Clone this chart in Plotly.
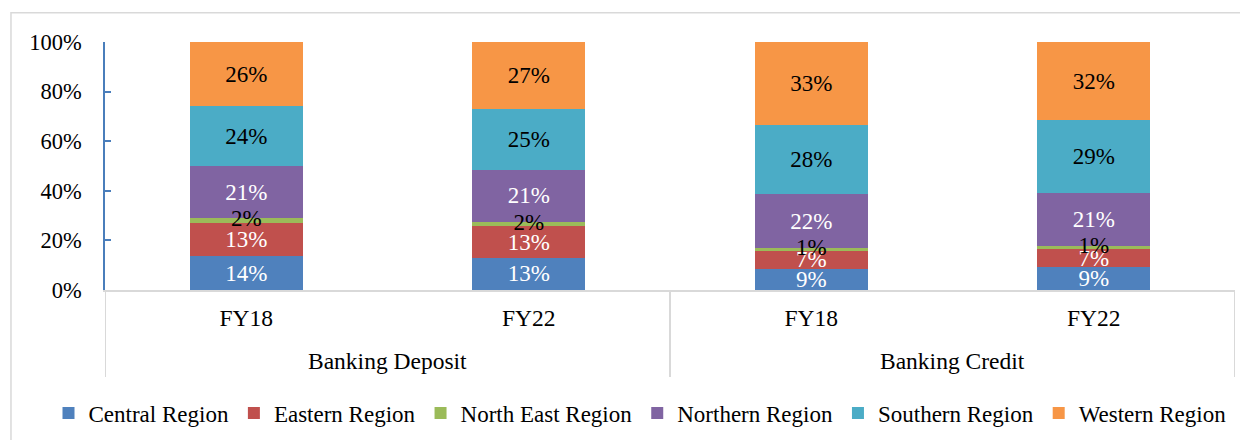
import plotly.graph_objects as go

groups = ["Banking Deposit", "Banking Deposit", "Banking Credit", "Banking Credit"]
years = ["FY18", "FY22", "FY18", "FY22"]

regions = ["Central Region", "Eastern Region", "North East Region",
           "Northern Region", "Southern Region", "Western Region"]
central = [13.6, 13.0, 8.6, 9.2]
eastern = [13.3, 12.7, 7.2, 7.3]
north_east = [2.1, 1.9, 1.0, 1.2]
northern = [21.0, 20.7, 22.0, 21.4]
southern = [24.0, 24.8, 27.8, 29.3]
western = [26.0, 26.9, 33.4, 31.6]

series = [central, eastern, north_east, northern, southern, western]
colors = ["#4F81BD", "#C0504D", "#9BBB59", "#8064A2", "#4BACC6", "#F79646"]
text_colors = ["white", "white", "black", "white", "black", "black"]

FONT = "Liberation Serif, Times New Roman, serif"
cats = [g + " " + y for g, y in zip(groups, years)]

fig = go.Figure()
for i, (name, vals, col, tcol) in enumerate(zip(regions, series, colors, text_colors)):
    thin = name == "North East Region"
    fig.add_trace(go.Bar(
        x=cats, y=vals, name=name,
        marker=dict(color=col, line=dict(width=0)),
        texttemplate="%{y:.0f}%", textposition="none" if thin else "inside",
        textangle=0, insidetextanchor="middle",
        textfont=dict(family=FONT, size=23, color=tcol),
        hoverinfo="skip",
    ))

# labels of the thin North East segments, drawn above all bars
ne_mid = [c + e + n / 2 for c, e, n in zip(central, eastern, north_east)]
fig.add_trace(go.Scatter(
    x=cats, y=ne_mid, mode="text", showlegend=False, hoverinfo="skip",
    text=[f"{v:.0f}%" for v in north_east], cliponaxis=False,
    textfont=dict(family=FONT, size=23, color="black"),
))

fig.update_layout(
    barmode="stack", bargap=0.6,
    width=1240, height=432,
    margin=dict(l=97, r=13, t=34, b=150, autoexpand=False),
    paper_bgcolor="white", plot_bgcolor="white",
    font=dict(family=FONT, size=22, color="black"),
    uniformtext=dict(minsize=23, mode="show"),
    legend=dict(orientation="h", xref="paper", x=-0.05, xanchor="left",
                y=-0.496, yanchor="middle", font=dict(size=23),
                itemwidth=30, traceorder="normal", itemclick=False),
    showlegend=True,
)
fig.update_yaxes(range=[0, 100], dtick=20, ticksuffix="%", showgrid=False,
                 zeroline=False, showline=True, linecolor="#4A7EBB", linewidth=1.5,
                 ticks="inside", ticklen=6, tickcolor="#4A7EBB", tickwidth=1.5,
                 ticklabelstandoff=17, tickfont=dict(size=22.5))
fig.update_xaxes(type="category", tickvals=cats, ticktext=years,
                 showline=True, linecolor="#D9D9D9", linewidth=2,
                 ticks="", ticklabelstandoff=6, tickfont=dict(size=23.5),
                 range=[-0.5, len(cats) - 0.5])

# group labels and group dividers under the category axis
group_names = list(dict.fromkeys(groups))
for gname in group_names:
    idx = [i for i, g in enumerate(groups) if g == gname]
    fig.add_annotation(x=sum(idx) / len(idx), y=-0.288, xref="x", yref="paper",
                       text=gname, showarrow=False, yanchor="middle",
                       font=dict(size=23.5))
    for b in (min(idx) - 0.5, max(idx) + 0.5):
        fig.add_shape(type="line", xref="x", yref="paper", x0=b, x1=b,
                      y0=0, y1=-0.351, line=dict(color="#D9D9D9", width=2))

fig.add_shape(type="rect", xref="paper", yref="paper",
              x0=-0.0832, x1=1.008, y0=-0.63, y1=1.118,
              line=dict(color="#D9D9D9", width=1.5), fillcolor="rgba(0,0,0,0)",
              layer="below")

fig.write_html("out.html")
